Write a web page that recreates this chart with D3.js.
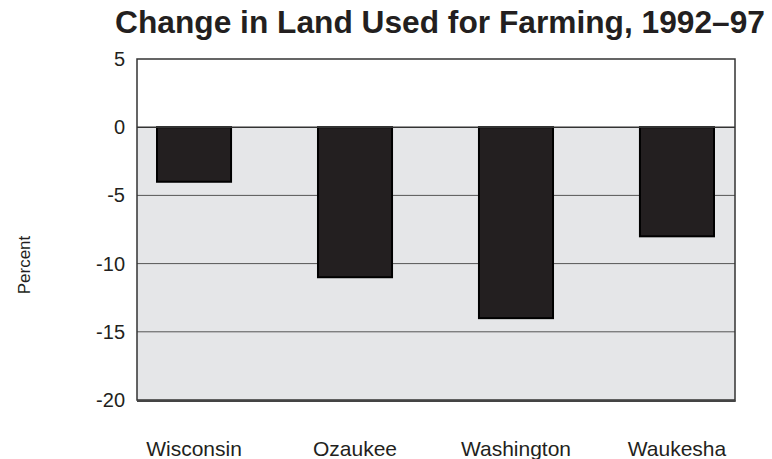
<!DOCTYPE html>
<html><head><meta charset="utf-8">
<script src="https://cdn.jsdelivr.net/npm/d3@7"></script>
<style>body{margin:0;background:#fff;} text{font-family:"Liberation Sans",Arial,sans-serif;}</style>
</head><body>
<svg id="c" width="772" height="459"></svg>
<script>
const categories = ["Wisconsin", "Ozaukee", "Washington", "Waukesha"];
const values = [-4, -11, -14, -8];
const yTicks = [5, 0, -5, -10, -15, -20];
const title = "Change in Land Used for Farming, 1992\u201397";
const yLabel = "Percent";

const svg = d3.select("#c");
const plot = {left: 137, right: 735, top: 59, bottom: 400};
const y = d3.scaleLinear().domain([-20, 5]).range([plot.bottom, plot.top]);
const x = d3.scaleBand().domain(categories).range([157, 714]).paddingInner(0.54).paddingOuter(0);

// backgrounds
svg.append("rect").attr("x", plot.left).attr("y", y(5)).attr("width", plot.right - plot.left)
  .attr("height", y(0) - y(5)).attr("fill", "#fff");
svg.append("rect").attr("x", plot.left).attr("y", y(0)).attr("width", plot.right - plot.left)
  .attr("height", y(-20) - y(0)).attr("fill", "#e5e6e8");

// grid lines
svg.append("g").selectAll("line").data([-5, -10, -15]).join("line")
  .attr("x1", plot.left).attr("x2", plot.right)
  .attr("y1", d => y(d)).attr("y2", d => y(d))
  .attr("stroke", "#555").attr("stroke-width", 1);

// bars
svg.append("g").selectAll("rect").data(values).join("rect")
  .attr("x", (d, i) => x(categories[i]))
  .attr("y", d => y(0))
  .attr("width", x.bandwidth())
  .attr("height", d => y(d) - y(0))
  .attr("fill", "#231f20").attr("stroke", "#000").attr("stroke-width", 2);

// zero line
svg.append("line").attr("x1", plot.left).attr("x2", plot.right)
  .attr("y1", y(0)).attr("y2", y(0)).attr("stroke", "#333").attr("stroke-width", 1.5);

// border
svg.append("rect").attr("x", plot.left).attr("y", plot.top).attr("width", plot.right - plot.left)
  .attr("height", plot.bottom - plot.top).attr("fill", "none").attr("stroke", "#333").attr("stroke-width", 1.5);
svg.append("line").attr("x1", plot.left).attr("x2", plot.right + 0.75)
  .attr("y1", plot.bottom + 1).attr("y2", plot.bottom + 1).attr("stroke", "#444").attr("stroke-width", 2);

// y axis labels
const yAxis = d3.axisLeft(y).tickValues(yTicks).tickSize(0).tickPadding(12).tickFormat(d => String(d));
const gy = svg.append("g").attr("transform", `translate(${plot.left},0)`).call(yAxis);
gy.attr("font-size", null).attr("font-family", null);
gy.select(".domain").remove();
gy.selectAll("text").attr("font-size", 20).attr("fill", "#231f20");

// x axis labels
const xAxis = d3.axisBottom(x).tickSize(0).tickPadding(0);
const gx = svg.append("g").attr("transform", `translate(0,441)`).call(xAxis);
gx.attr("font-size", null).attr("font-family", null);
gx.select(".domain").remove();
gx.selectAll("text").attr("font-size", 21).attr("fill", "#231f20");

// y label
svg.append("text").attr("transform", "translate(30,265) rotate(-90)")
  .attr("text-anchor", "middle").attr("font-size", 17).attr("fill", "#231f20").text(yLabel);

// title
svg.append("text").attr("x", 440).attr("y", 33).attr("text-anchor", "middle")
  .attr("font-size", 31.7).attr("font-weight", "bold").attr("fill", "#231f20").text(title);
</script>
</body></html>
